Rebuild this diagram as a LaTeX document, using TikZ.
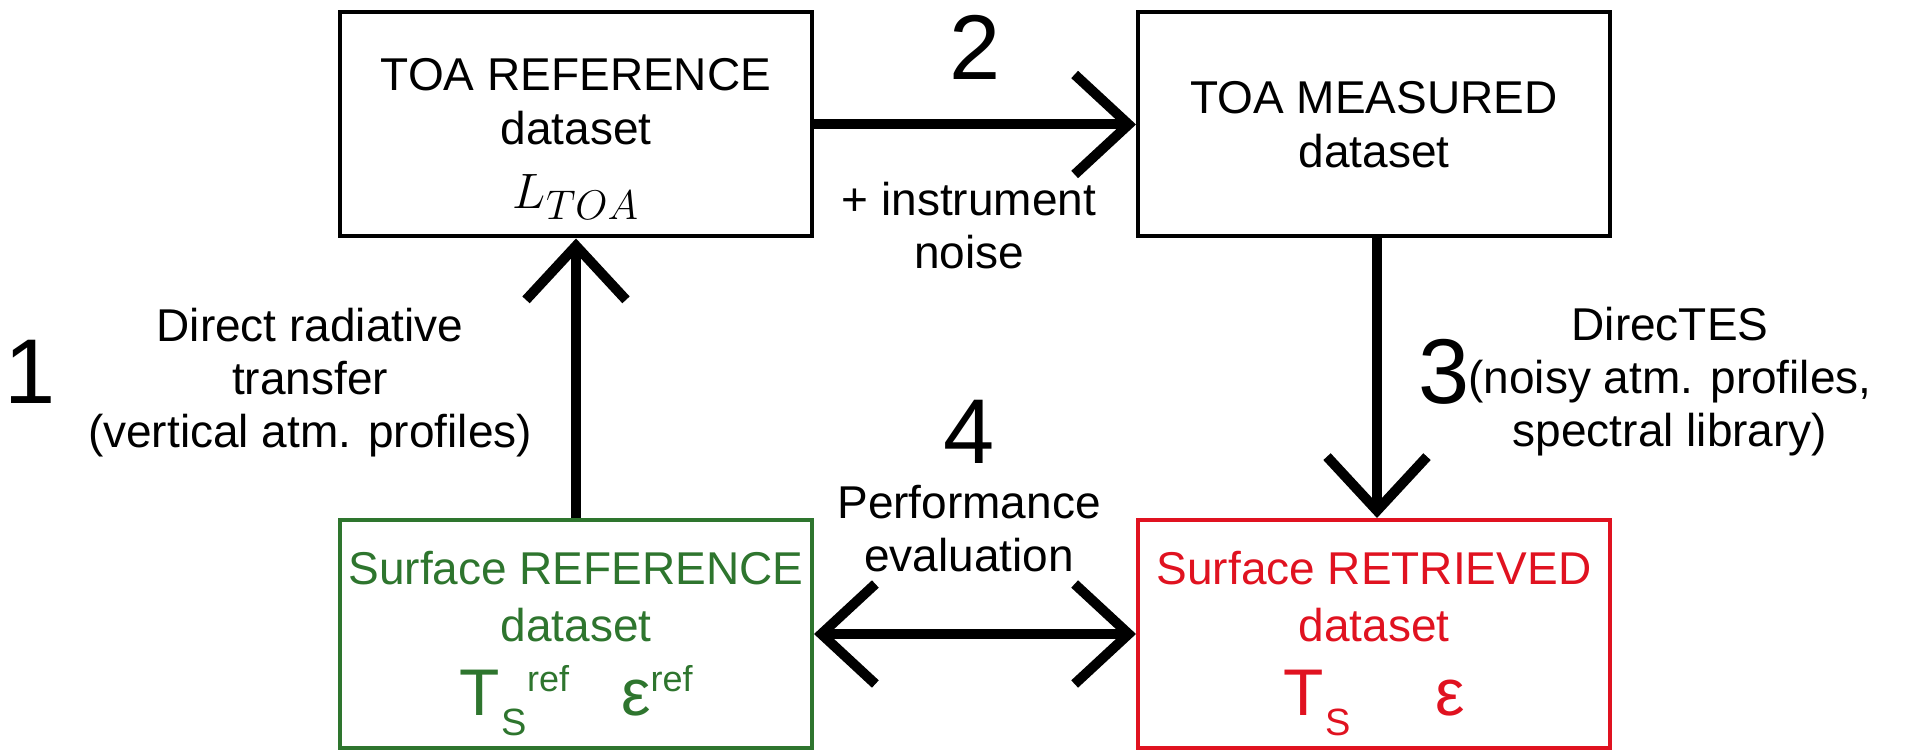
\documentclass[tikz,border=0pt]{standalone}
\usepackage{fontspec}
\setmainfont{Liberation Sans}
\usetikzlibrary{arrows.meta}
\definecolor{surfgreen}{RGB}{46,117,46}
\definecolor{surfred}{RGB}{224,18,32}
% invisible strut that fixes the height of a box's first line
\newcommand{\firstline}[1]{\rule{0pt}{#1}}
\begin{document}
\begin{tikzpicture}[x=0.5pt,y=-0.5pt,
  box/.style={draw, line width=2pt, minimum width=236pt, align=center,
    inner sep=0pt, font=\fontsize{23}{27}\selectfont},
  surface/.style={box, minimum height=114pt, font=\fontsize{23}{28.5}\selectfont},
  lbl/.style={align=center, inner sep=0pt, font=\fontsize{23}{26.5}\selectfont},
  num/.style={inner sep=0pt, font=\fontsize{46}{46}\selectfont},
  barb/.tip={Straight Barb[length=27pt,width=50pt]},
  flow/.style={line width=5pt, -barb},
  both/.style={line width=5pt, barb-barb}
]
\useasboundingbox (0,0) rectangle (1906,753);

% dataset boxes
\node[box, minimum height=112pt] (toaref) at (576,124.5)
  {\firstline{30.25pt}TOA REFERENCE\\dataset\\[5pt]{\fontsize{29}{33}\selectfont $L_{TOA}$}};
\node[box, minimum height=112pt] (meas) at (1374,124.5)
  {\firstline{16pt}TOA MEASURED\\dataset};
\node[surface, draw=surfgreen, text=surfgreen] (sref) at (576,634)
  {\firstline{26pt}Surface REFERENCE\\dataset\\[8.5pt]%
   {\fontsize{33}{36}\selectfont T\kern1pt\raisebox{-10pt}{\fontsize{19}{19}\selectfont S}\raisebox{12pt}{\fontsize{18}{18}\selectfont ref}\hspace{26pt}ε\raisebox{12pt}{\fontsize{18}{18}\selectfont ref}}};
\node[surface, draw=surfred, text=surfred] (sret) at (1374,634)
  {\firstline{26pt}Surface RETRIEVED\\dataset\\[8.5pt]%
   {\fontsize{33}{36}\selectfont T\kern1pt\raisebox{-10pt}{\fontsize{19}{19}\selectfont S}\hspace{42pt}ε}};

% step numbers
\node[num] (n1) at (30,372) {1};
\node[num] (n2) at (975,47) {2};
\node[num] (n3) at (1444,372) {3};
\node[num] (n4) at (969,432) {4};

% step descriptions
\node[lbl] (d1) at (310,383) {Direct radiative\\transfer\\(vertical atm. profiles)};
\node[lbl] (d2) at (969,226) {+ instrument\\noise};
\node[lbl] (d3) at (1670,382) {DirecTES\\(noisy atm. profiles,\\spectral library)};
\node[lbl] (d4) at (969,529) {Performance\\evaluation};

% processing chain
\draw[flow] (sref.north) -- (toaref.south);
\draw[flow] (toaref.east) -- (meas.west);
\draw[flow] ([xshift=1.5pt]meas.south) -- ([xshift=1.5pt]sret.north);
\draw[both] (sref.east) -- (sret.west);
\end{tikzpicture}
\end{document}
